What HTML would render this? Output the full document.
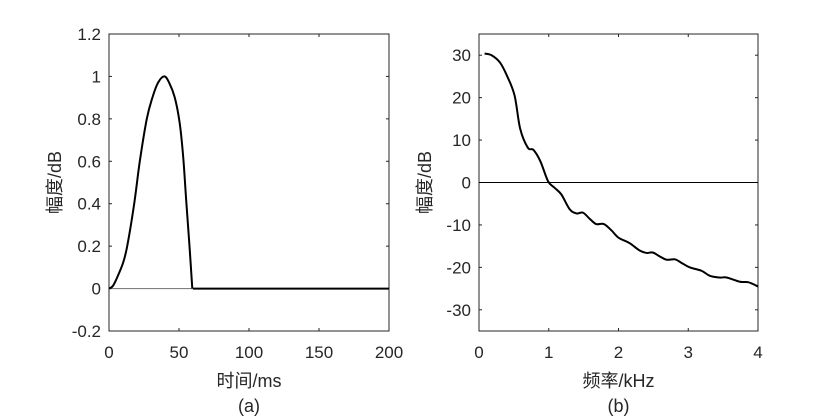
<!DOCTYPE html>
<html><head><meta charset="utf-8"><style>
html,body{margin:0;padding:0;background:#fff;width:840px;height:420px;overflow:hidden}
svg text{font-family:"Liberation Sans","Noto Sans CJK SC",sans-serif;fill:#262626}
</style></head><body>
<svg id="chart" width="840" height="420" xmlns="http://www.w3.org/2000/svg"></svg>
<script>
// Panel (a) data
const timeMs = [0, 2.5, 5, 10, 13, 18, 22, 27, 31, 35, 39.5, 43, 47, 50.5, 53, 55.2, 57.5, 59.5, 60, 200];
const pulseAmp = [0, 0.01, 0.04, 0.12, 0.2, 0.4, 0.6, 0.8, 0.9, 0.97, 1.0, 0.97, 0.9, 0.78, 0.62, 0.41, 0.2, 0.0, 0, 0];
const xTicksA = [0, 50, 100, 150, 200];
const yTicksA = [-0.2, 0, 0.2, 0.4, 0.6, 0.8, 1, 1.2];
const yTickLabelsA = ["-0.2", "0", "0.2", "0.4", "0.6", "0.8", "1", "1.2"];
// Panel (b) data
const freqKHz = [0.08,0.18,0.3,0.4,0.51,0.59,0.7,0.78,0.88,0.99,1.08,1.18,1.3,1.4,1.49,1.59,1.68,1.79,1.9,2.0,2.16,2.3,2.4,2.49,2.59,2.69,2.81,2.9,3.02,3.19,3.31,3.45,3.55,3.74,3.86,4.0];
const specDb = [30.4,30,28.3,25.2,20.5,12.7,8.2,7.7,5,0.3,-1.2,-2.8,-6.3,-7.3,-7.1,-8.6,-9.8,-9.8,-11.3,-13,-14.3,-16,-16.6,-16.5,-17.4,-18.2,-18.1,-18.9,-20,-20.8,-22,-22.4,-22.4,-23.4,-23.5,-24.5];
const xTicksB = [0, 1, 2, 3, 4];
const yTicksB = [-30, -20, -10, 0, 10, 20, 30];

const svg = document.getElementById('chart');
const NS = 'http://www.w3.org/2000/svg';
function mk(tag, attrs, parent){const e=document.createElementNS(NS,tag);for(const k in attrs)e.setAttribute(k,attrs[k]);(parent||svg).appendChild(e);return e;}
function scale(d0,d1,r0,r1){return v=>r0+(v-d0)/(d1-d0)*(r1-r0);}
function smoothPath(xs,ys){let d='M'+xs[0].toFixed(2)+','+ys[0].toFixed(2);
 for(let i=0;i<xs.length-1;i++){const x0=xs[Math.max(i-1,0)],y0=ys[Math.max(i-1,0)],x1=xs[i],y1=ys[i],x2=xs[i+1],y2=ys[i+1],x3=xs[Math.min(i+2,xs.length-1)],y3=ys[Math.min(i+2,xs.length-1)];
 const c1x=x1+(x2-x0)/6,c1y=y1+(y2-y0)/6,c2x=x2-(x3-x1)/6,c2y=y2-(y3-y1)/6;
 d+=' C'+c1x.toFixed(2)+','+c1y.toFixed(2)+' '+c2x.toFixed(2)+','+c2y.toFixed(2)+' '+x2.toFixed(2)+','+y2.toFixed(2);}
 return d;}

function panel(o){
 const g=mk('g',{});
 
 
 const X=scale(o.xmin,o.xmax,o.left,o.right), Y=scale(o.ymin,o.ymax,o.bottom,o.top);
 const box=mk('rect',{x:o.left,y:o.top,width:o.right-o.left,height:o.bottom-o.top,fill:'#fff',stroke:'#262626','stroke-width':1},g);
 
 
 o.xt.forEach(v=>{const x=X(v);
  mk('line',{x1:x,x2:x,y1:o.bottom,y2:o.bottom-3,stroke:'#262626'},g);
  mk('line',{x1:x,x2:x,y1:o.top,y2:o.top+3,stroke:'#262626'},g);
  const t=mk('text',{x:x,y:o.bottom+27,'text-anchor':'middle','font-size':17},g);t.textContent=String(v);
  
  });
 o.yt.forEach((v,i)=>{const y=Y(v);
  mk('line',{x1:o.left,x2:o.left+3,y1:y,y2:y,stroke:'#262626'},g);
  mk('line',{x1:o.right,x2:o.right-3,y1:y,y2:y,stroke:'#262626'},g);
  const t=mk('text',{x:o.left-8,y:y+6,'text-anchor':'end','font-size':17},g);t.textContent=o.ytl?o.ytl[i]:String(v);
  
  });
 const xl=mk('text',{x:(o.left+o.right)/2,y:387,'text-anchor':'middle','font-size':18},g);xl.textContent=o.xlabel;
 
 
 const cap=mk('text',{x:(o.left+o.right)/2,y:412,'text-anchor':'middle','font-size':18},g);cap.textContent=o.caption;
 
 
 const yl=mk('text',{x:0,y:0,'text-anchor':'middle','font-size':18,transform:'translate('+(o.left-48)+','+((o.top+o.bottom)/2)+') rotate(-90)'},g);yl.textContent='幅度/dB';
 
 
 return {g,X,Y};
}

// Panel a
const A=panel({name:'panel-a',left:109,right:389,top:34,bottom:331,xmin:0,xmax:200,ymin:-0.2,ymax:1.2,xt:xTicksA,yt:yTicksA,ytl:yTickLabelsA,xlabel:'时间/ms',caption:'(a)'});
const zl=mk('line',{x1:A.X(0),x2:A.X(60),y1:A.Y(0),y2:A.Y(0),stroke:'#808080','stroke-width':1.2},A.g);


const nPulse=timeMs.length-1;
const pp=mk('path',{d:smoothPath(timeMs.slice(0,nPulse-1).map(A.X),pulseAmp.slice(0,nPulse-1).map(A.Y)),fill:'none',stroke:'#000','stroke-width':2},A.g);


const tail=mk('line',{x1:A.X(timeMs[nPulse-1]),x2:A.X(timeMs[nPulse]),y1:A.Y(pulseAmp[nPulse-1]),y2:A.Y(pulseAmp[nPulse]),stroke:'#000','stroke-width':2},A.g);



// Panel b
const B=panel({name:'panel-b',left:479,right:758,top:34,bottom:331,xmin:0,xmax:4,ymin:-35,ymax:35,xt:xTicksB,yt:yTicksB,xlabel:'频率/kHz',caption:'(b)'});
const zb=mk('line',{x1:B.X(0),x2:B.X(4),y1:B.Y(0),y2:B.Y(0),stroke:'#000','stroke-width':1},B.g);


const sp=mk('path',{d:smoothPath(freqKHz.map(B.X),specDb.map(B.Y)),fill:'none',stroke:'#000','stroke-width':2},B.g);


</script>
</body></html>
